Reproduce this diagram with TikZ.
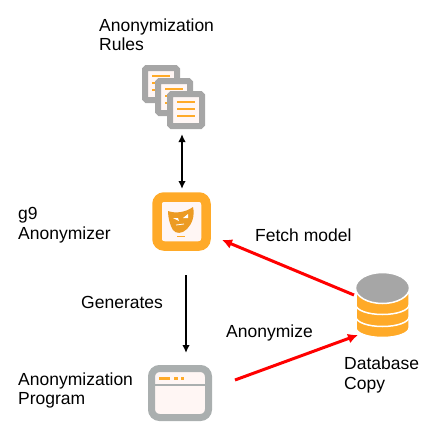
\documentclass[tikz,border=0pt]{standalone}
\usepackage{fontspec}
\setmainfont{Liberation Sans}
\usepackage{tikz}
\usetikzlibrary{arrows.meta}
\definecolor{iconorange}{RGB}{255,170,40}
\definecolor{icongray}{RGB}{166,166,166}
\definecolor{windowgray}{RGB}{170,175,175}
\definecolor{iconfill}{RGB}{255,246,244}
\definecolor{maskorange}{RGB}{236,155,35}
\tikzset{
	label/.style={font=\fontsize{17.5}{19.5}\selectfont, align=left, anchor=west, inner sep=0pt},
	link/.style={line width=1.8pt, -{Latex[length=8pt,width=7.5pt]}},
	linkboth/.style={line width=1.8pt, {Latex[length=8pt,width=7.5pt]}-{Latex[length=8pt,width=7.5pt]}},
	redlink/.style={line width=3pt, red, -{Latex[length=10pt,width=10pt]}},
	sheet/.style={draw=icongray, fill=iconfill, line width=6pt, rounded corners=1.5pt},
	bar/.style={iconorange, line width=2.2pt},
}
\newcommand{\rulesheet}[2]{
	\draw[sheet] (#1+3,#2+3) rectangle (#1+35,#2+35);
	\draw[bar] (#1+10,#2+11) -- (#1+28,#2+11);
	\draw[bar] (#1+10,#2+18) -- (#1+28,#2+18);
	\draw[bar] (#1+10,#2+25) -- (#1+28,#2+25);
}
\newcommand{\dbdisc}[1]{
	\draw[white, fill=iconorange, line width=1.5pt] (356,#1-12) -- (356,#1) arc[start angle=180, end angle=0, x radius=26.5, y radius=9.5] -- (409,#1-12) -- cycle;
}
\begin{document}
\begin{tikzpicture}[x=1pt,y=-1pt]
	\useasboundingbox (0,0) rectangle (445,445);
	% texts
	\node[label] (rulestext) at (99,34.5) {Anonymization\\Rules};
	\node[label] (g9text) at (18,225) {g9\\Anonymizer};
	\node[label] (generates) at (81,302.5) {Generates};
	\node[label] (fetch) at (255,235) {Fetch model};
	\node[label] (anon) at (226,333) {Anonymize};
	\node[label] (progtext) at (18,390.5) {Anonymization\\Program};
	\node[label] (dbtext) at (344,375) {Database\\Copy};
	% rules icon
	\rulesheet{142}{65}
	\rulesheet{155}{78}
	\rulesheet{167}{91}
	% anonymizer icon
	\draw[draw=iconorange, fill=iconfill, line width=9.5pt, rounded corners=7pt] (157,197) rectangle (206,246);
	\fill[maskorange] (168,211) .. controls (176,214) and (186,212) .. (193,207) .. controls (195,216) and (192,224) .. (187,229) .. controls (182,234) and (176,234) .. (173,230) .. controls (170,225) and (168,218) .. (168,211) -- cycle;
	\fill[white] (173,218) -- (178,218) -- (179,221) -- cycle;
	\fill[white] (183,218) -- (188,214) -- (188,218) -- cycle;
	\draw[white, line width=.8pt] (176,225) -- (184,224);
	\draw[iconorange, line width=1pt] (177,236) -- (185,236);
	% program icon
	\draw[draw=windowgray, fill=iconfill, line width=7pt, rounded corners=8pt] (151.5,368.5) rectangle (208.5,417.5);
	\draw[windowgray, line width=2.5pt] (152,385) -- (208,385);
	\draw[iconorange, line width=3pt] (159,378) -- (170,378);
	\draw[iconorange, line width=3pt] (174,378) -- (178,378);
	\draw[iconorange, line width=3pt] (181,378) -- (184,378);
	% database icon
	\dbdisc{328}
	\dbdisc{317}
	\dbdisc{305}
	\draw[white, fill=icongray, line width=1.5pt] (382.5,288) ellipse[x radius=27, y radius=15.5];
	% connectors
	\coordinate (rulesend) at (182,134);
	\coordinate (gearend) at (182,189);
	\coordinate (gearlow) at (186,275);
	\coordinate (progend) at (186,353);
	\coordinate (dbleft) at (354,295);
	\coordinate (gearright) at (222,240);
	\coordinate (progright) at (235,380);
	\coordinate (dblow) at (358,335);
	\draw[linkboth] (rulesend) -- (gearend);
	\draw[link] (gearlow) -- (progend);
	\draw[redlink] (dbleft) -- (gearright);
	\draw[redlink] (progright) -- (dblow);
\end{tikzpicture}
\end{document}
